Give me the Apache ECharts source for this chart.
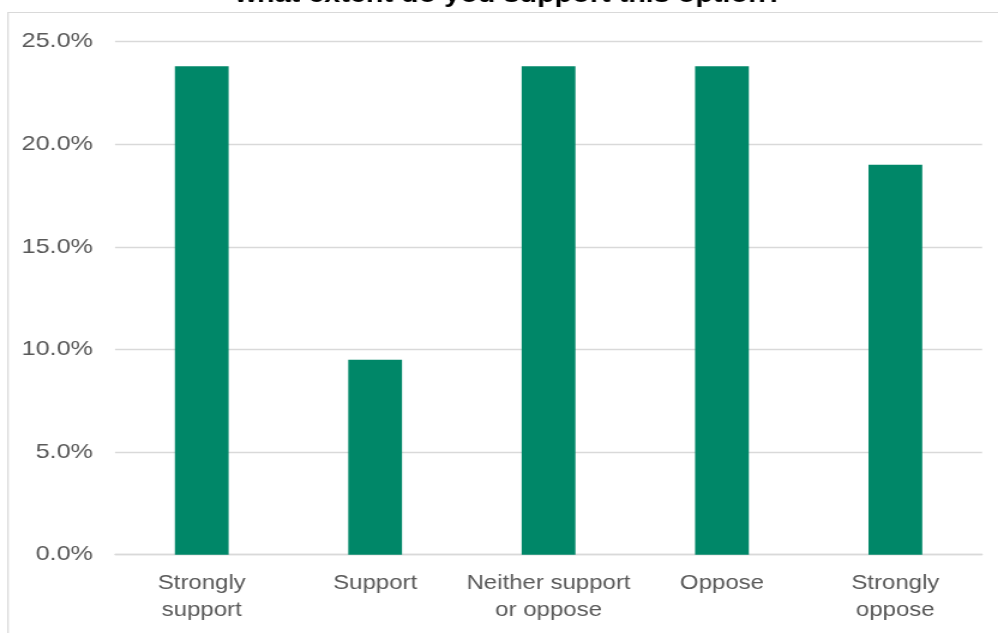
<!DOCTYPE html>
<html>
<head>
<meta charset="utf-8">
<script src="https://cdn.jsdelivr.net/npm/echarts@6/dist/echarts.min.js"></script>
<style>
  html, body { margin: 0; padding: 0; background: #ffffff; overflow: hidden; }
  /* The chart is laid out at a narrower width and widened to the page width */
  #chart { width: 832px; height: 633px; transform: scaleX(1.19952); transform-origin: 0 0; }
</style>
</head>
<body>
<div id="chart"></div>
<script>
// Survey responses: share of respondents for each answer
const categories = ['Strongly\nsupport', 'Support', 'Neither support\nor oppose', 'Oppose', 'Strongly\noppose'];
const shares = [23.8, 9.5, 23.8, 23.8, 19.0];
const yTicks = { min: 0, max: 25, step: 5 };
const titleText = 'what extent do you support this option?';

const chart = echarts.init(document.getElementById('chart'), null, { renderer: 'canvas' });

chart.setOption({
  animation: false,
  backgroundColor: '#ffffff',
  grid: { left: 95.9, right: 13.3, top: 41.7, bottom: 78.3, containLabel: false },
  graphic: [
    {
      type: 'rect',
      silent: true,
      shape: { x: 6.7, y: 12.5, width: 1000, height: 800 },
      style: { fill: 'none', stroke: '#d9d9d9', lineWidth: 1.2 }
    },
    {
      type: 'text',
      silent: true,
      style: {
        text: titleText,
        x: 424.3,
        y: -4.5,
        align: 'center',
        verticalAlign: 'middle',
        font: 'bold 24px "Liberation Sans", Arial, sans-serif',
        fill: '#000000'
      }
    }
  ],
  xAxis: {
    type: 'category',
    data: categories,
    axisTick: { show: false },
    axisLine: { show: true, lineStyle: { color: '#d9d9d9', width: 1.3 } },
    axisLabel: {
      interval: 0,
      margin: 15,
      color: '#595959',
      fontSize: 20,
      lineHeight: 27,
      fontFamily: '"Liberation Sans", Arial, sans-serif'
    }
  },
  yAxis: {
    type: 'value',
    min: yTicks.min,
    max: yTicks.max,
    interval: yTicks.step,
    axisLine: { show: false },
    axisTick: { show: false },
    splitLine: { lineStyle: { color: '#d9d9d9', width: 1.3 } },
    axisLabel: {
      margin: 18.4,
      color: '#595959',
      fontSize: 21,
      fontFamily: '"Liberation Sans", Arial, sans-serif',
      formatter: v => v.toFixed(1) + '%'
    }
  },
  series: [{
    type: 'bar',
    data: shares,
    barWidth: '31%',
    itemStyle: { color: '#008768' }
  }]
});
</script>
</body>
</html>
